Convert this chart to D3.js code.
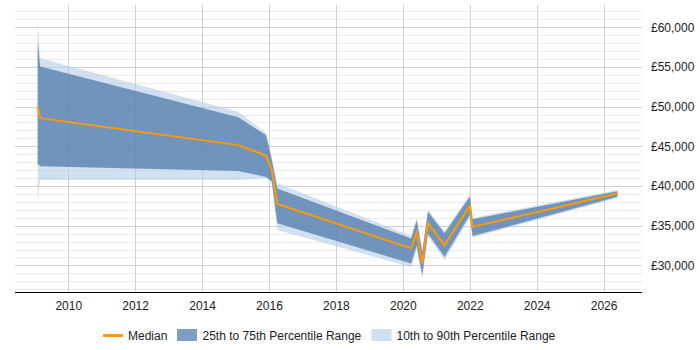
<!DOCTYPE html>
<html>
<head>
<meta charset="utf-8">
<script src="https://cdn.jsdelivr.net/npm/d3@7"></script>
<style>
  body { margin: 0; background: #fff; }
  svg { font-family: "Liberation Sans", Arial, sans-serif; }
</style>
</head>
<body>
<svg id="canvas"></svg>
<script>
let dates = ["2009-02", "2009-03", "2015-02", "2015-12", "2016-02", "2016-04", "2020-04",
  "2020-06", "2020-08", "2020-10", "2021-04", "2022-01", "2022-02", "2026-06"];
let p10 = [38200, 40750, 40750, 41000, 40300, 34450, 29800, 32000, 28350, 33700, 30650, 36000, 33500, 38500];
let p25 = [42850, 42500, 41900, 41150, 40600, 35300, 30250, 32500, 28800, 34000, 31100, 36350, 33700, 38650];
let p50 = [50000, 48550, 45150, 43800, 42000, 37750, 32150, 34150, 30250, 35300, 32550, 37500, 34850, 39050];
let p75 = [58150, 55050, 48650, 46400, 43300, 39700, 33400, 35700, 31700, 36750, 34050, 38650, 35800, 39350];
let p90 = [60900, 56100, 49350, 46700, 43600, 40350, 33700, 36000, 32000, 37000, 34300, 38900, 36000, 39500];

let yearTicks = [2010, 2012, 2014, 2016, 2018, 2020, 2022, 2024, 2026];
let salaryTicks = [30000, 35000, 40000, 45000, 50000, 55000, 60000];
let legendLabels = ["Median", "25th to 75th Percentile Range", "10th to 90th Percentile Range"];

let width = 700;
let height = 350;
let plotLeft = 15;
let plotRight = 642;
let plotTop = 5;
let plotBottom = 292;

let parse = d3.timeParse("%Y-%m");
let rows = dates.map((d, i) => ({
  date: parse(d), p10: p10[i], p25: p25[i], p50: p50[i], p75: p75[i], p90: p90[i]
}));

let canvas = d3.select("#canvas").attr("width", width).attr("height", height);

let xScale = d3.scaleTime()
  .domain([new Date(2008, 4, 30), new Date(2027, 1, 24)])
  .range([plotLeft, plotRight]);
let yScale = d3.scaleLinear()
  .domain([26650, 62800])
  .range([plotBottom, plotTop]);

// minor gridlines every 1000
let minor = d3.range(27000, 62001, 1000).filter((v) => v % 5000 != 0);
canvas.append("g").selectAll("line").data(minor).enter().append("line")
  .attr("x1", plotLeft).attr("x2", plotRight)
  .attr("y1", (v) => Math.round(yScale(v)) + 0.5).attr("y2", (v) => Math.round(yScale(v)) + 0.5)
  .attr("stroke", "#ebebeb");

canvas.append("g").selectAll("line").data(salaryTicks).enter().append("line")
  .attr("x1", plotLeft).attr("x2", plotRight)
  .attr("y1", (v) => Math.round(yScale(v)) + 0.5).attr("y2", (v) => Math.round(yScale(v)) + 0.5)
  .attr("stroke", "#d0d0d0");

canvas.append("g").selectAll("line").data(yearTicks).enter().append("line")
  .attr("x1", (y) => Math.round(xScale(new Date(y, 0, 1))) + 0.5)
  .attr("x2", (y) => Math.round(xScale(new Date(y, 0, 1))) + 0.5)
  .attr("y1", plotTop).attr("y2", plotBottom)
  .attr("stroke", "#d0d0d0");

// bands
let outer = d3.area().x((d) => xScale(d.date)).y0((d) => yScale(d.p10)).y1((d) => yScale(d.p90));
let inner = d3.area().x((d) => xScale(d.date)).y0((d) => yScale(d.p25)).y1((d) => yScale(d.p75));
let medianLine = d3.line().x((d) => xScale(d.date)).y((d) => yScale(d.p50));

canvas.append("path").datum(rows).attr("d", outer)
  .attr("fill", "rgb(180,205,230)").attr("fill-opacity", 0.6);
canvas.append("path").datum(rows).attr("d", inner)
  .attr("fill", "rgb(71,116,167)").attr("fill-opacity", 0.7);
canvas.append("path").datum(rows).attr("d", medianLine)
  .attr("fill", "none").attr("stroke", "#ff9900").attr("stroke-width", 2);

// axes
let xAxis = d3.axisBottom(xScale)
  .tickValues(yearTicks.map((y) => new Date(y, 0, 1)))
  .tickFormat(d3.timeFormat("%Y"))
  .tickSize(0).tickPadding(9);
let gx = canvas.append("g").attr("transform", "translate(0," + plotBottom + ")").call(xAxis);
gx.select(".domain").attr("stroke", "#000").attr("d", "M" + plotLeft + ",0.5H" + plotRight);
gx.selectAll("text").attr("font-size", 12).attr("fill", "#222")
  .attr("font-family", "Liberation Sans, Arial, sans-serif");

let yAxis = d3.axisRight(yScale)
  .tickValues(salaryTicks)
  .tickFormat((v) => "£" + d3.format(",")(v))
  .tickSize(0).tickPadding(9);
let gy = canvas.append("g").attr("transform", "translate(" + plotRight + ",0)").call(yAxis);
gy.select(".domain").remove();
gy.selectAll("text").attr("font-size", 12).attr("fill", "#222")
  .attr("font-family", "Liberation Sans, Arial, sans-serif");

// legend
let legend = canvas.append("g").attr("font-size", 12).attr("fill", "#222");
legend.append("line").attr("x1", 103).attr("x2", 123).attr("y1", 335.5).attr("y2", 335.5)
  .attr("stroke", "#ff9900").attr("stroke-width", 3);
legend.append("text").attr("x", 128).attr("y", 339.5).text(legendLabels[0]);
legend.append("rect").attr("x", 177).attr("y", 329).attr("width", 20).attr("height", 12)
  .attr("fill", "rgb(125,157,195)");
legend.append("text").attr("x", 202.5).attr("y", 339.5).text(legendLabels[1]);
legend.append("rect").attr("x", 371.5).attr("y", 329).attr("width", 20).attr("height", 12)
  .attr("fill", "rgb(207,223,240)");
legend.append("text").attr("x", 396.5).attr("y", 339.5).text(legendLabels[2]);
</script>
</body>
</html>
